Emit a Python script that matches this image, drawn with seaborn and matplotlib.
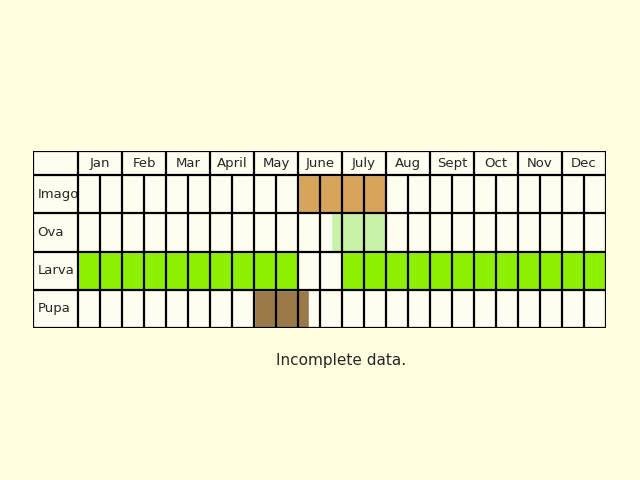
import matplotlib.pyplot as plt
import seaborn as sns

sns.set_style("white")

months = ["Jan", "Feb", "Mar", "April", "May", "June", "July", "Aug", "Sept", "Oct", "Nov", "Dec"]
stages = ["Imago", "Ova", "Larva", "Pupa"]
# active periods in half-month units (start, end)
periods = {
    "Imago": [(10, 14)],
    "Ova": [(11.5, 14)],
    "Larva": [(0, 10), (12, 24)],
    "Pupa": [(8, 10.5)],
}
colours = {"Imago": "#d7a45c", "Ova": "#c8f2a8", "Larva": "#8cf000", "Pupa": "#9a7a48"}

fig = plt.figure(figsize=(6.4, 4.8), dpi=100, facecolor="#ffffe0")
W, H = 640, 480
ax = fig.add_axes([33 / W, 1 - 328 / H, (606 - 33) / W, (328 - 151) / H])
lab_w = 45 / 22
hdr = 24 / 38
ax.set_xlim(-lab_w, 24)
ax.set_ylim(hdr + 4, 0)
ax.axis("off")

ax.add_patch(plt.Rectangle((-lab_w, 0), 24 + lab_w, hdr + 4, facecolor="#fffdf0", zorder=0))
for i, s in enumerate(stages):
    for a, b in periods[s]:
        ax.barh(hdr + i + 0.5, b - a, left=a, height=1, color=colours[s], zorder=1)
    ax.text(-lab_w + 0.2, hdr + i + 0.5, s, ha="left", va="center", fontsize=9.5)
for j, m in enumerate(months):
    ax.text(2 * j + 1, hdr / 2, m, ha="center", va="center", fontsize=9.5)

lw = 1.6
for k in range(25):
    y0 = hdr if k % 2 else 0
    ax.plot([k, k], [y0, hdr + 4], color="black", lw=lw, zorder=3)
ax.plot([-lab_w, -lab_w], [0, hdr + 4], color="black", lw=lw, zorder=3)
for r in [0, hdr, hdr + 1, hdr + 2, hdr + 3, hdr + 4]:
    ax.plot([-lab_w, 24], [r, r], color="black", lw=lw, zorder=3)

fig.text(341 / W, 1 - 360 / H, "Incomplete data.", ha="center", va="center", fontsize=11)
fig.savefig("out.png", dpi=100, facecolor=fig.get_facecolor())
